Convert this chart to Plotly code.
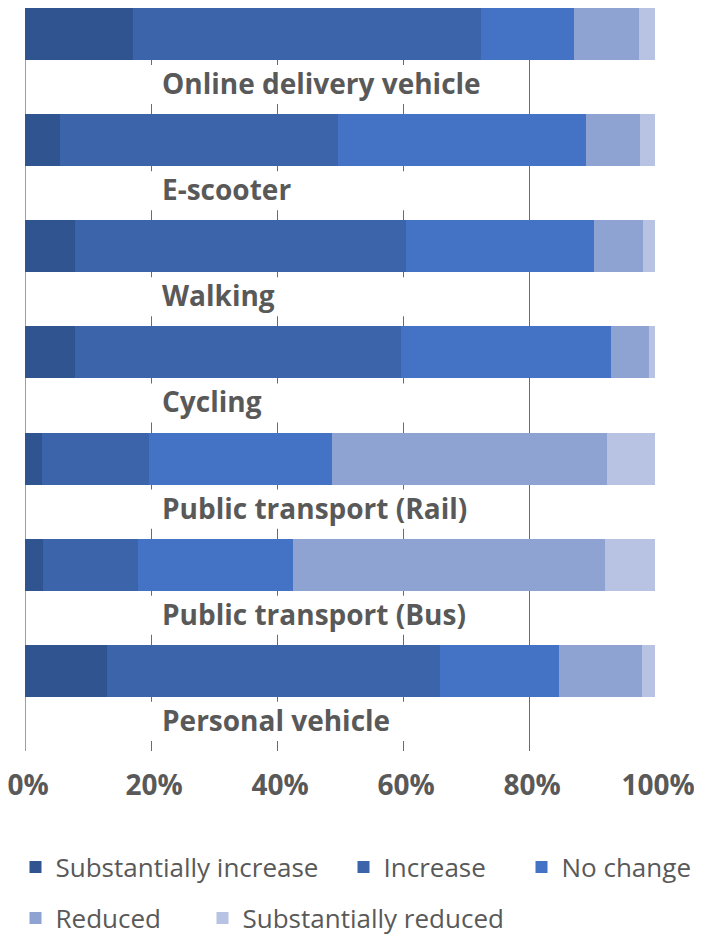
import plotly.graph_objects as go

categories = ["Online delivery vehicle", "E-scooter", "Walking", "Cycling",
              "Public transport (Rail)", "Public transport (Bus)", "Personal vehicle"]
series_names = ["Substantially increase", "Increase", "No change", "Reduced", "Substantially reduced"]
subs_increase = [17.1, 5.5, 8.0, 8.0, 2.7, 2.9, 13.0]
increase = [55.3, 44.2, 52.4, 51.7, 17.0, 15.0, 52.8]
no_change = [14.7, 39.4, 29.9, 33.3, 29.1, 24.6, 18.9]
reduced = [10.3, 8.5, 7.8, 6.1, 43.6, 49.5, 13.2]
subs_reduced = [2.6, 2.4, 1.9, 0.9, 7.6, 8.0, 2.1]
tick_vals = [0, 20, 40, 60, 80, 100]
tick_text = ["0%", "20%", "40%", "60%", "80%", "100%"]

colors = ["#30548F", "#3C64AA", "#4472C4", "#8FA3D3", "#B8C2E2"]
series = [subs_increase, increase, no_change, reduced, subs_reduced]

# layout: each category occupies one slot; bar at top of slot, label beneath
BAR_W = 0.49
BAR_C = 0.245
LABEL_C = 0.707
BOX0, BOX1 = 0.537, 0.905

ypos = [i + BAR_C for i in range(len(categories))]

# the page body has an 8px default margin: work in page pixels, then offset
OFF = 8
FIG_W, FIG_H = 702 - OFF, 936 - OFF
PLOT_L, PLOT_W, PLOT_B, PLOT_H = 25 - OFF, 630, 751 - OFF, 743
# legend item icon-centre positions (page px) in reference
leg_pos = [(35, 867), (363, 867), (541, 867), (35, 918), (222, 918)]
leg_ids = ["legend", "legend2", "legend3", "legend4", "legend5"]

fig = go.Figure()
for k, (name, vals, col) in enumerate(zip(series_names, series, colors)):
    fig.add_trace(go.Bar(
        name=name, x=vals, y=ypos, orientation="h", width=BAR_W,
        marker=dict(color=col, line=dict(width=0)),
        legend=leg_ids[k],
    ))

LABEL_FONT = dict(family="Open Sans", size=28, color="#595959", weight=700)
for i, cat in enumerate(categories):
    fig.add_shape(type="rect", xref="x", yref="y", x0=18.5, x1=72,
                  y0=i + BOX0, y1=i + BOX1, fillcolor="white",
                  line=dict(width=0), layer="between")
    fig.add_annotation(x=21.4, y=i + LABEL_C, xref="x", yref="y", text=cat,
                       showarrow=False, xanchor="left", yanchor="middle",
                       font=LABEL_FONT)

leg_font = dict(family="Open Sans", size=26, color="#595959")
legends = {}
for lid, (px, py) in zip(leg_ids, leg_pos):
    legends[lid] = dict(orientation="h", xanchor="left", yanchor="middle",
                        x=(px - OFF - 19.5 - PLOT_L) / PLOT_W,
                        y=(PLOT_B - (py - OFF)) / PLOT_H,
                        font=leg_font, bgcolor="rgba(0,0,0,0)")

fig.update_layout(
    width=FIG_W, height=FIG_H,
    margin=dict(l=PLOT_L, r=FIG_W - PLOT_L - PLOT_W, t=PLOT_B - PLOT_H,
                b=FIG_H - PLOT_B, autoexpand=False),
    paper_bgcolor="white", plot_bgcolor="white",
    barmode="stack", bargap=0,
    xaxis=dict(range=[0, 100], tickvals=tick_vals, ticktext=tick_text,
               showgrid=True, gridcolor="#6B6B6B", gridwidth=1,
               zeroline=False, showline=False, ticks="",
               tickfont=dict(family="Open Sans", size=28, color="#595959", weight=700),
               ticklabelstandoff=15, ticklabelshift=3, ticklabeloverflow="allow",
               fixedrange=True, automargin=False),
    yaxis=dict(range=[7, 0], showticklabels=False, showgrid=False,
               zeroline=False, showline=False, ticks="", fixedrange=True),
    showlegend=True,
    **legends,
)
fig.add_shape(type="line", xref="x", yref="paper", x0=0, x1=0, y0=0, y1=1,
              line=dict(color="#404040", width=1), layer="between")

fig.write_html("out.html")
